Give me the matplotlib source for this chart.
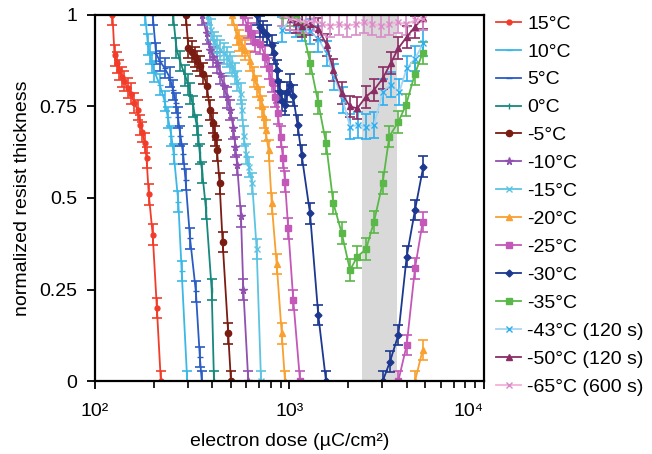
import numpy as np
import matplotlib
matplotlib.use("Agg")
import matplotlib.pyplot as plt
from matplotlib.ticker import FixedLocator, FixedFormatter, LogLocator, NullFormatter

plt.rcParams['font.family'] = ['Liberation Sans', 'DejaVu Sans']

# dose (uC/cm2) and normalized thickness
d_p15 = [123, 126, 129, 133, 137, 141, 147, 153, 159, 166, 171, 175, 180, 184, 189, 198, 208, 218]
t_p15 = [1.0, 0.89, 0.87, 0.85, 0.83, 0.82, 0.80, 0.785, 0.76, 0.74, 0.70, 0.68, 0.65, 0.61, 0.51, 0.40, 0.20, 0.0]

d_p10 = [181, 187, 191, 196, 202, 215, 228, 237, 247, 254, 268, 279, 298]
t_p10 = [1.0, 0.92, 0.895, 0.87, 0.845, 0.81, 0.765, 0.72, 0.67, 0.62, 0.49, 0.30, 0.0]

d_p5 = [198, 206, 215, 228, 242, 252, 260, 267, 275, 284, 292, 308, 330, 346, 354]
t_p5 = [1.0, 0.895, 0.875, 0.855, 0.83, 0.795, 0.76, 0.72, 0.67, 0.62, 0.55, 0.39, 0.245, 0.065, 0.0]

d_0 = [252, 262, 273, 290, 302, 308, 320, 333, 339, 346, 356, 372, 398, 409]
t_0 = [1.0, 0.91, 0.875, 0.835, 0.81, 0.785, 0.75, 0.70, 0.67, 0.62, 0.57, 0.47, 0.25, 0.0]

d_m5 = [293, 302, 314, 327, 336, 346, 361, 376, 390, 404, 416, 424, 437, 453, 484, 500]
t_m5 = [1.0, 0.91, 0.90, 0.885, 0.875, 0.86, 0.84, 0.805, 0.74, 0.705, 0.67, 0.63, 0.54, 0.38, 0.13, 0.0]

d_m10 = [354, 375, 390, 405, 424, 440, 459, 477, 496, 515, 527, 538, 563, 579, 614]
t_m10 = [1.0, 0.95, 0.905, 0.885, 0.87, 0.84, 0.805, 0.775, 0.74, 0.69, 0.64, 0.59, 0.45, 0.25, 0.0]

d_m15 = [381, 395, 407, 424, 441, 460, 477, 493, 507, 523, 538, 560, 571, 581, 600, 617, 643, 678, 714]
t_m15 = [1.0, 0.96, 0.925, 0.915, 0.905, 0.895, 0.885, 0.87, 0.86, 0.84, 0.82, 0.785, 0.74, 0.67, 0.62, 0.585, 0.54, 0.36, 0.0]

d_m20 = [505, 535, 548, 570, 592, 630, 655, 680, 708, 722, 738, 753, 781, 810, 859, 912, 948]
t_m20 = [1.0, 0.945, 0.93, 0.915, 0.905, 0.875, 0.83, 0.805, 0.775, 0.75, 0.72, 0.685, 0.63, 0.485, 0.32, 0.13, 0.0]
d_m20b = [4418, 4841]
t_m20b = [0.0, 0.085]

d_m25 = [580, 610, 633, 668, 708, 752, 781, 812, 846, 871, 899, 925, 948, 985, 1046, 1133]
t_m25 = [1.0, 0.965, 0.95, 0.927, 0.922, 0.886, 0.854, 0.818, 0.777, 0.731, 0.668, 0.61, 0.545, 0.417, 0.221, 0.0]
d_m25b = [3626, 4004, 4418, 4841]
t_m25b = [0.0, 0.098, 0.308, 0.435]

d_m30 = [678, 705, 733, 762, 810, 832, 859, 875, 894, 920, 948, 975, 1006, 1043, 1100, 1155, 1275, 1406, 1541]
t_m30 = [1.0, 0.968, 0.955, 0.945, 0.918, 0.895, 0.85, 0.82, 0.79, 0.765, 0.755, 0.79, 0.81, 0.78, 0.70, 0.617, 0.458, 0.18, 0.0]
d_m30b = [3015, 3286, 3626, 4004, 4418, 4875]
t_m30b = [0.0, 0.053, 0.126, 0.34, 0.467, 0.586]

d_m35 = [930, 1006, 1080, 1155, 1275, 1406, 1541, 1680, 1856, 2047, 2232, 2474, 2720, 3015, 3260, 3626, 3971, 4418, 4841]
t_m35 = [1.0, 1.0, 0.99, 0.975, 0.87, 0.76, 0.65, 0.486, 0.404, 0.303, 0.34, 0.36, 0.435, 0.542, 0.668, 0.708, 0.754, 0.84, 0.897]

d_m43 = [912, 1006, 1080, 1155, 1275, 1406, 1554, 1700, 1877, 2047, 2259, 2474, 2720, 3015, 3314, 3669, 4004, 4418, 4875]
t_m43 = [0.96, 0.985, 0.975, 0.965, 0.955, 0.935, 0.895, 0.83, 0.768, 0.695, 0.70, 0.695, 0.70, 0.79, 0.81, 0.79, 0.854, 0.881, 0.923]

d_m50 = [1006, 1080, 1155, 1275, 1406, 1554, 1680, 1856, 2047, 2232, 2474, 2720, 3015, 3314, 3626, 4004, 4418, 4841]
t_m50 = [0.99, 0.98, 0.97, 0.975, 0.963, 0.918, 0.85, 0.786, 0.75, 0.745, 0.777, 0.795, 0.827, 0.868, 0.909, 0.94, 0.968, 0.991]

d_m65 = [912, 1006, 1110, 1210, 1330, 1470, 1620, 1790, 1980, 2190, 2420, 2670, 2950, 3260, 3600, 3980, 4400, 4860]
t_m65 = [1.0, 0.99, 0.985, 0.98, 0.985, 0.975, 0.97, 0.975, 0.97, 0.975, 0.98, 0.975, 0.97, 0.975, 0.98, 0.975, 0.985, 0.99]

labels = ["15°C", "10°C", "5°C", "0°C", "-5°C", "-10°C", "-15°C", "-20°C", "-25°C",
          "-30°C", "-35°C", "-43°C (120 s)", "-50°C (120 s)", "-65°C (600 s)"]
errs = [0.028, 0.028, 0.028, 0.028, 0.028, 0.028, 0.028, 0.028, 0.028, 0.028, 0.03, 0.035, 0.03, 0.03]

band = (2360, 3570)   # grey shaded dose window

# (dose, thickness, line colour, bar colour, marker, marker size)
series = [
    (d_p15, t_p15, '#f23c2a', '#f23c2a', 'o', 3.5),
    (d_p10, t_p10, '#3cb8e6', '#3cb8e6', '_', 5),
    (d_p5, t_p5, '#2a5cc4', '#2a5cc4', '_', 5),
    (d_0, t_0, '#17887c', '#17887c', '|', 5),
    (d_m5, t_m5, '#7a1c12', '#7a1c12', 'o', 4.5),
    (d_m10, t_m10, '#9050b0', '#9050b0', '*', 5.5),
    (d_m15, t_m15, '#5cc4e2', '#5cc4e2', 'x', 4),
    (d_m20, t_m20, '#f8a030', '#f8a030', '^', 4.5),
    (d_m25, t_m25, '#c458b8', '#c458b8', 's', 4.5),
    (d_m30, t_m30, '#1c3890', '#1c3890', 'D', 3.5),
    (d_m35, t_m35, '#5ab848', '#5ab848', 's', 5),
    (d_m43, t_m43, '#a6d4f2', '#2cb0f0', 'x', 4),
    (d_m50, t_m50, '#8c2c64', '#8c2c64', '^', 5),
    (d_m65, t_m65, '#f4b0da', '#d88cc8', 'x', 4),
]
extra = [(d_m20b, t_m20b, 7), (d_m25b, t_m25b, 8), (d_m30b, t_m30b, 9)]

fig = plt.figure(figsize=(6.52, 4.54), dpi=100)
ax = fig.add_axes([95/652, 1 - 381/454, 389/652, 366/454])

ax.axvspan(band[0], band[1], color='#d9d9d9', zorder=0, lw=0)

def draw(d, t, i, lab):
    lc, bc, mk, ms = series[i][2:]
    ax.errorbar(d, t, yerr=errs[i], fmt='none', ecolor=bc, elinewidth=1.2,
                capsize=3.5, capthick=1.2, zorder=2)
    ax.plot(d, t, color=lc, lw=1.3, marker=mk, ms=ms, mfc=bc, mec=bc,
            label=lab, zorder=3)

for i, s in enumerate(series):
    draw(s[0], s[1], i, labels[i])
for d, t, i in extra:
    draw(d, t, i, None)

ax.set_xscale('log')
ax.set_xlim(100, 10000)
ax.set_ylim(0, 1)

ax.xaxis.set_major_locator(FixedLocator([100, 1000, 10000]))
ax.xaxis.set_major_formatter(FixedFormatter(["10²", "10³", "10⁴"]))
ax.xaxis.set_minor_locator(LogLocator(base=10, subs=np.arange(2, 10), numticks=20))
ax.xaxis.set_minor_formatter(NullFormatter())
ax.set_yticks([0, 0.25, 0.5, 0.75, 1])
ax.set_yticklabels(["0", "0.25", "0.5", "0.75", "1"])

ax.tick_params(axis='both', which='major', direction='out', length=6, width=1.3,
               labelsize=14, pad=7)
ax.tick_params(axis='x', which='minor', direction='out', length=5, width=1.2)
ax.tick_params(axis='x', which='major', pad=10)
ax.tick_params(top=False, right=False, which='both')
ax.get_xticklabels()[-1].set_horizontalalignment('right')
for sp in ax.spines.values():
    sp.set_linewidth(1.6)
    sp.set_zorder(5)

ax.set_xlabel("electron dose (µC/cm²)", fontsize=14, labelpad=9)
ax.set_ylabel("normalized resist thickness", fontsize=14, labelpad=6)

ax.legend(loc='upper left', bbox_to_anchor=(496/652, 1 - 15/454),
          bbox_transform=fig.transFigure, frameon=False, fontsize=14,
          handlelength=1.3, handletextpad=0.3, labelspacing=0.53,
          borderpad=0, borderaxespad=0)

fig.savefig("out.png", dpi=100)
